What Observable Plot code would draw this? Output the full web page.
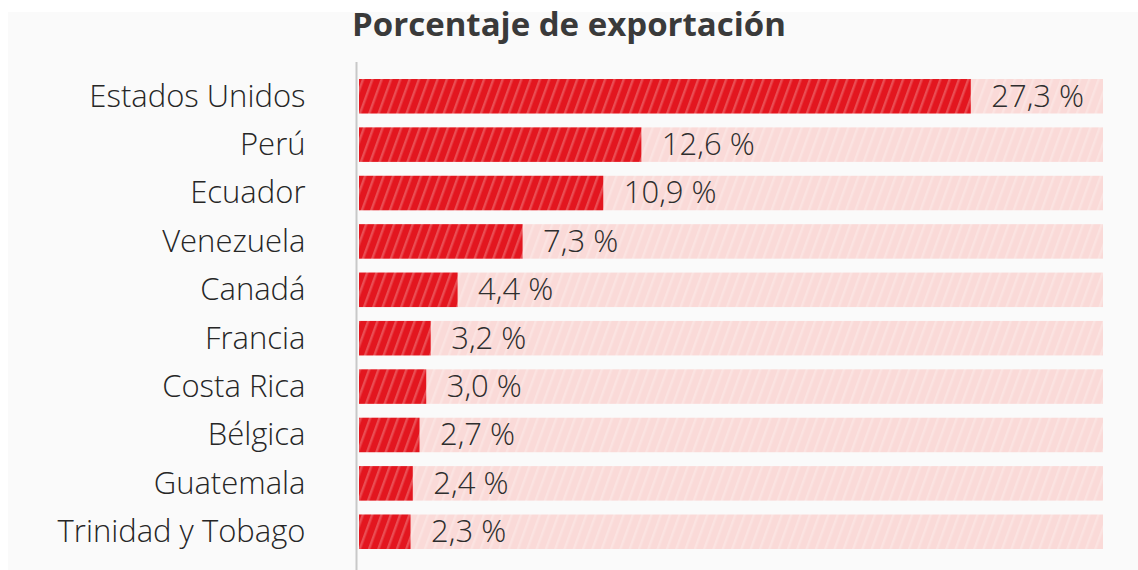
<!DOCTYPE html>
<html>
<head>
<meta charset="utf-8">
<script src="https://cdn.jsdelivr.net/npm/d3@7"></script>
<script src="https://cdn.jsdelivr.net/npm/@observablehq/plot@0.6"></script>
<style>
  html, body { margin: 0; padding: 0; background: #ffffff; }
  #wrap { position: relative; width: 1138px; height: 570px; overflow: hidden; background: #ffffff; }
  #panel { position: absolute; left: 8px; top: 12px; right: 0; bottom: 0; background: #fafafa; }
  #title { position: absolute; left: 0; top: 0; width: 1138px; height: 50px; text-align: center;
    font-family: "Open Sans", sans-serif; font-weight: 700; font-size: 33px; color: #3a3a3a; line-height: 48px; }
  #chart { position: absolute; left: 0; top: 50px; }
</style>
</head>
<body>
<div id="wrap">
  <div id="panel"></div>
  <div id="title">Porcentaje de exportación</div>
  <div id="chart"></div>
</div>
<script>
const countries = ["Estados Unidos", "Perú", "Ecuador", "Venezuela", "Canadá", "Francia", "Costa Rica", "Bélgica", "Guatemala", "Trinidad y Tobago"];
const shares = [27.3, 12.6, 10.9, 7.3, 4.4, 3.2, 3.0, 2.7, 2.4, 2.3];
const shareLabels = ["27,3 %", "12,6 %", "10,9 %", "7,3 %", "4,4 %", "3,2 %", "3,0 %", "2,7 %", "2,4 %", "2,3 %"];
const xMax = 33.2;

const data = countries.map((c, i) => ({country: c, value: shares[i], label: shareLabels[i], full: xMax}));

const font = "'Open Sans', sans-serif";

const svg = Plot.plot({
  width: 1138,
  height: 520,
  marginLeft: 359,
  marginRight: 35,
  marginTop: 12,
  marginBottom: 0,
  style: {background: "transparent", fontFamily: font},
  x: {domain: [0, xMax], range: [359, 1103], axis: null},
  y: {domain: countries, range: [29, 499], paddingInner: 0.287, paddingOuter: 0, round: false, label: null},
  marks: [
    Plot.barX(data, {y: "country", x1: 0, x2: "full", fill: "url(#hatchPink)"}),
    Plot.barX(data, {y: "country", x1: 0, x2: "value", fill: "url(#hatchRed)"}),
    Plot.ruleX([0], {dx: -3, stroke: "#c8c8c8", strokeWidth: 2}),
    Plot.axisY({tickSize: 0, tickPadding: 54, fontSize: 31, fill: "#262626", fontWeight: 300, label: null}),
    Plot.text(data, {y: "country", x: "value", text: "label", dx: 20, textAnchor: "start",
      fontSize: 31, fill: "#2e2e2e", fontWeight: 300})
  ]
});

const defs = d3.select(svg).insert("defs", ":first-child");
const pw = 8.75;
const red = defs.append("pattern").attr("id", "hatchRed").attr("patternUnits", "userSpaceOnUse")
  .attr("width", pw).attr("height", pw).attr("patternTransform", "rotate(20)");
red.append("rect").attr("width", pw).attr("height", pw).attr("fill", "#e3161f");
red.append("rect").attr("x", 0).attr("width", 2.4).attr("height", pw).attr("fill", "#ea4d53");
const pink = defs.append("pattern").attr("id", "hatchPink").attr("patternUnits", "userSpaceOnUse")
  .attr("width", pw).attr("height", pw).attr("patternTransform", "rotate(20)");
pink.append("rect").attr("width", pw).attr("height", pw).attr("fill", "#fadad8");
pink.append("rect").attr("x", 0).attr("width", 2.4).attr("height", pw).attr("fill", "#fbe3e1");

document.getElementById("chart").appendChild(svg);
</script>
</body>
</html>
